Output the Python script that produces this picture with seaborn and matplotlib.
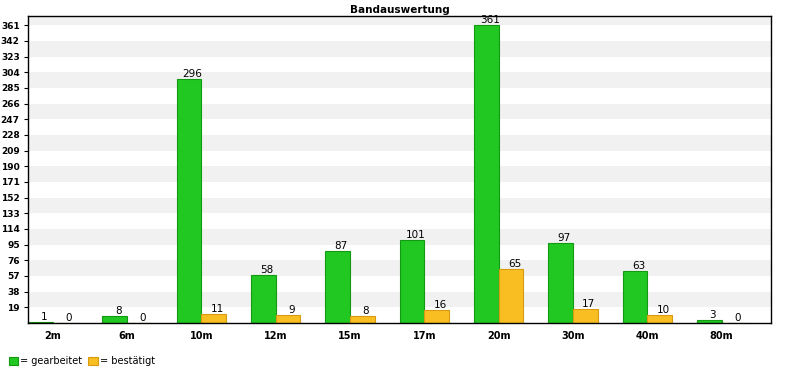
import pandas as pd
import numpy as np
import matplotlib.pyplot as plt
import seaborn as sns

# data
bands = ['2m', '6m', '10m', '12m', '15m', '17m', '20m', '30m', '40m', '80m']
gearbeitet = [1, 8, 296, 58, 87, 101, 361, 97, 63, 3]
bestaetigt = [0, 0, 11, 9, 8, 16, 65, 17, 10, 0]
y_ticks = list(range(19, 362, 19))

df = pd.DataFrame({
    'Band': bands * 2,
    'Anzahl': gearbeitet + bestaetigt,
    'Typ': ['= gearbeitet'] * len(bands) + ['= bestätigt'] * len(bands),
})

sns.set_style('white')
plt.rcParams['font.family'] = ['DejaVu Sans']
plt.rcParams['text.color'] = 'black'
plt.rcParams['xtick.color'] = 'black'
plt.rcParams['ytick.color'] = 'black'

fig = plt.figure(figsize=(8, 3.75), dpi=100)
ax = fig.add_axes([0.035, 0.139, 0.929, 0.818])

# alternating grey bands
for lo in y_ticks[::2]:
    ax.axhspan(lo, lo + 19, color='#f1f1f1', zorder=0, lw=0)

sns.barplot(data=df, x='Band', y='Anzahl', hue='Typ', order=bands,
            palette={'= gearbeitet': '#22c822', '= bestätigt': '#f8be22'},
            width=0.667, saturation=1, ax=ax, zorder=2)

edges = ['#129a12', '#d89a10']
for cont, ec in zip(ax.containers, edges):
    for bar in cont:
        bar.set_edgecolor(ec)
        bar.set_linewidth(0.8)
    labs = ax.bar_label(cont, fontsize=7.5, padding=0, color='black')
    for t in labs:
        t.xyann = (2.5, 0)

ax.set_xlim(-0.333, 9.667)
ax.set_ylim(0, 372)
ax.set_yticks(y_ticks)
ax.set_yticklabels([str(t) for t in y_ticks], fontsize=6.5, fontweight='bold')
ax.set_xticks(range(len(bands)))
ax.set_xticklabels(bands, fontsize=7, fontweight='bold')
ax.tick_params(axis='y', length=3, width=0.8, pad=3, left=True, labelcolor='black')
ax.tick_params(axis='x', length=0, pad=6, labelcolor='black')
ax.set_xlabel('')
ax.set_ylabel('')
for s in ax.spines.values():
    s.set_color('black')
    s.set_linewidth(1)

ax.set_title('Bandauswertung', fontsize=7.5, fontweight='bold', pad=2, color='black')

handles, labels = ax.get_legend_handles_labels()
ax.get_legend().remove()
for h, ec in zip(handles, edges):
    h.set_edgecolor(ec)
    h.set_linewidth(0.8)
fig.legend(handles, labels, loc='lower left', bbox_to_anchor=(0.0, 0.0),
           ncol=2, frameon=False, fontsize=7, handlelength=1.0, handleheight=1.0,
           handletextpad=0.2, columnspacing=0.6, labelcolor='black')

plt.savefig('out.png', dpi=100)
